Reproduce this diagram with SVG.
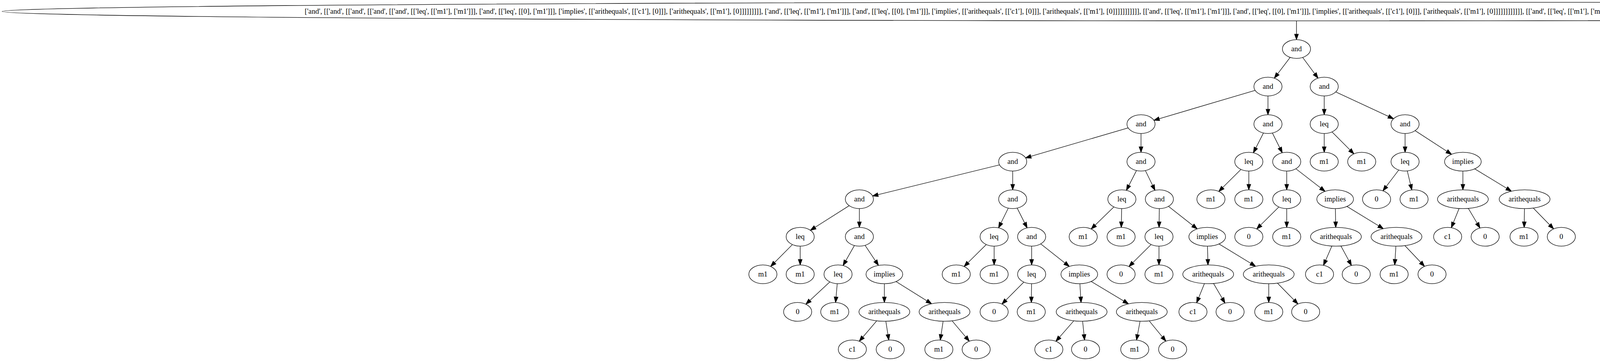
<svg xmlns="http://www.w3.org/2000/svg" width="6638" height="923" viewBox="0 0 6638 923">
<defs>
<style>
.node ellipse{fill:#fff;stroke:#000;stroke-width:1.33}
.node text{font-family:"Liberation Serif","Times New Roman",serif;font-size:18.67px;text-anchor:middle;fill:#000}
.edges line{stroke:#000;stroke-width:1.33;marker-end:url(#ah)}
</style>
<marker id="ah" markerUnits="userSpaceOnUse" markerWidth="14" markerHeight="10" refX="13.33" refY="4.67" orient="auto" viewBox="0 0 13.33 9.33" overflow="visible"><path d="M0,0 L13.33,4.67 L0,9.33 Z" fill="#000" stroke="#000" stroke-width="1.33"/></marker>
</defs>
<rect x="0" y="0" width="6638" height="923" fill="#fff"/>
<g id="edges" class="edges">
<line x1="3319" y1="53.33" x2="3319" y2="101.33"/>
<line x1="3319" y1="125.33" x2="3262.3" y2="199.9"/>
<line x1="3319" y1="125.33" x2="3374.1" y2="199.8"/>
<line x1="3246" y1="221.33" x2="2953.9" y2="307.6"/>
<line x1="3246" y1="221.33" x2="3246" y2="293.33"/>
<line x1="3390" y1="221.33" x2="3390" y2="293.33"/>
<line x1="3390" y1="221.33" x2="3567.4" y2="303.6"/>
<line x1="2921" y1="317.33" x2="2625.5" y2="403.7"/>
<line x1="2921" y1="317.33" x2="2921" y2="389.33"/>
<line x1="3246" y1="317.33" x2="3208.6" y2="390.6"/>
<line x1="3246" y1="317.33" x2="3282.6" y2="390.6"/>
<line x1="3390" y1="317.33" x2="3390" y2="389.33"/>
<line x1="3390" y1="317.33" x2="3466" y2="393.4"/>
<line x1="3597" y1="317.33" x2="3597" y2="389.33"/>
<line x1="3597" y1="317.33" x2="3715.9" y2="394.5"/>
<line x1="2592.5" y1="413.33" x2="2233.8" y2="501.1"/>
<line x1="2592.5" y1="413.33" x2="2592.5" y2="485.33"/>
<line x1="2921" y1="413.33" x2="2883.6" y2="486.6"/>
<line x1="2921" y1="413.33" x2="2956.8" y2="486.5"/>
<line x1="3197" y1="413.33" x2="3120.1" y2="489.4"/>
<line x1="3197" y1="413.33" x2="3197" y2="485.33"/>
<line x1="3294" y1="413.33" x2="3294" y2="485.33"/>
<line x1="3294" y1="413.33" x2="3392.1" y2="489.3"/>
<line x1="3597" y1="413.33" x2="3540.3" y2="487.9"/>
<line x1="3597" y1="413.33" x2="3614.3" y2="485.6"/>
<line x1="3745" y1="413.33" x2="3745" y2="485.33"/>
<line x1="3745" y1="413.33" x2="3869.2" y2="488.8"/>
<line x1="2200" y1="509.33" x2="2074.6" y2="588.8"/>
<line x1="2200" y1="509.33" x2="2200" y2="581.33"/>
<line x1="2592.5" y1="509.33" x2="2556.3" y2="582.5"/>
<line x1="2592.5" y1="509.33" x2="2629.5" y2="582.6"/>
<line x1="2872" y1="509.33" x2="2793.4" y2="585.5"/>
<line x1="2872" y1="509.33" x2="2870.5" y2="581.3"/>
<line x1="2968" y1="509.33" x2="2967.25" y2="581.33"/>
<line x1="2968" y1="509.33" x2="3064.8" y2="585.2"/>
<line x1="3294" y1="509.33" x2="3217.1" y2="585.4"/>
<line x1="3294" y1="509.33" x2="3294" y2="581.33"/>
<line x1="3418" y1="509.33" x2="3419.5" y2="581.33"/>
<line x1="3418" y1="509.33" x2="3541.4" y2="584.8"/>
<line x1="3745" y1="509.33" x2="3715.4" y2="582.1"/>
<line x1="3745" y1="509.33" x2="3788.8" y2="583"/>
<line x1="3903" y1="509.33" x2="3901.9" y2="581.33"/>
<line x1="3903" y1="509.33" x2="3977.3" y2="585.2"/>
<line x1="2048.5" y1="605.33" x2="1972.9" y2="681.3"/>
<line x1="2048.5" y1="605.33" x2="2048.5" y2="677.33"/>
<line x1="2200" y1="605.33" x2="2158.2" y2="678.9"/>
<line x1="2200" y1="605.33" x2="2248.9" y2="678.6"/>
<line x1="2545" y1="605.33" x2="2468.1" y2="681.4"/>
<line x1="2545" y1="605.33" x2="2545" y2="677.33"/>
<line x1="2641" y1="605.33" x2="2641" y2="677.33"/>
<line x1="2641" y1="605.33" x2="2737.4" y2="681.2"/>
<line x1="2967" y1="605.33" x2="2890.1" y2="681.4"/>
<line x1="2967" y1="605.33" x2="2967" y2="677.33"/>
<line x1="3090.5" y1="605.33" x2="3092.4" y2="677.33"/>
<line x1="3090.5" y1="605.33" x2="3214.3" y2="680.8"/>
<line x1="3420" y1="605.33" x2="3388.1" y2="678.3"/>
<line x1="3420" y1="605.33" x2="3459.8" y2="678.8"/>
<line x1="3575" y1="605.33" x2="3570.5" y2="677.4"/>
<line x1="3575" y1="605.33" x2="3646.8" y2="681"/>
<line x1="2145.4" y1="701.33" x2="2063" y2="777.8"/>
<line x1="2145.4" y1="701.33" x2="2139.1" y2="773.4"/>
<line x1="2264" y1="701.33" x2="2264" y2="773.33"/>
<line x1="2264" y1="701.33" x2="2384.9" y2="776.7"/>
<line x1="2641" y1="701.33" x2="2565" y2="777.4"/>
<line x1="2641" y1="701.33" x2="2640.25" y2="773.33"/>
<line x1="2763" y1="701.33" x2="2767.5" y2="773.3"/>
<line x1="2763" y1="701.33" x2="2888.9" y2="776.9"/>
<line x1="3093" y1="701.33" x2="3063.4" y2="774.1"/>
<line x1="3093" y1="701.33" x2="3136" y2="774.9"/>
<line x1="3248" y1="701.33" x2="3248" y2="773.33"/>
<line x1="3248" y1="701.33" x2="3322.7" y2="777.2"/>
<line x1="2264" y1="797.33" x2="2199.8" y2="872.5"/>
<line x1="2264" y1="797.33" x2="2275.3" y2="869.4"/>
<line x1="2418" y1="797.33" x2="2407.1" y2="869.4"/>
<line x1="2418" y1="797.33" x2="2481.4" y2="872.4"/>
<line x1="2769" y1="797.33" x2="2703.1" y2="872.6"/>
<line x1="2769" y1="797.33" x2="2776.5" y2="869.4"/>
<line x1="2923" y1="797.33" x2="2909.5" y2="869.5"/>
<line x1="2923" y1="797.33" x2="2984.7" y2="872.3"/>
</g>
<g id="n0" class="node"><ellipse cx="3319" cy="29.33" rx="3313.7" ry="24"/><text x="3319" y="35.3" textLength="5078">['and', [['and', [['and', [['and', [['and', [['leq', [['m1'], ['m1']]], ['and', [['leq', [[0], ['m1']]], ['implies', [['arithequals', [['c1'], [0]]], ['arithequals', [['m1'], [0]]]]]]]]], ['and', [['leq', [['m1'], ['m1']]], ['and', [['leq', [[0], ['m1']]], ['implies', [['arithequals', [['c1'], [0]]], ['arithequals', [['m1'], [0]]]]]]]]]]], [['and', [['leq', [['m1'], ['m1']]], ['and', [['leq', [[0], ['m1']]], ['implies', [['arithequals', [['c1'], [0]]], ['arithequals', [['m1'], [0]]]]]]]]]]]], [['and', [['leq', [['m1'], ['m1']]], ['and', [['leq', [[0], ['m1']]], ['implies', [['arithequals', [['c1'], [0]]], ['arithequals', [['m1'], [0]]]]]]]]]]]], [['and', [['leq', [['m1'], ['m1']]], ['and', [['leq', [[0], ['m1']]], ['implies', [['arithequals', [['c1'], [0]]], ['arithequals', [['m1'], [0]]]]]]]]]]]]</text></g>
<g id="n1" class="node"><ellipse cx="3319" cy="125.33" rx="36" ry="24"/><text x="3319" y="131.3">and</text></g>
<g id="n2" class="node"><ellipse cx="3246" cy="221.33" rx="36" ry="24"/><text x="3246" y="227.3">and</text></g>
<g id="n3" class="node"><ellipse cx="3390" cy="221.33" rx="36" ry="24"/><text x="3390" y="227.3">and</text></g>
<g id="n4" class="node"><ellipse cx="2921" cy="317.33" rx="36" ry="24"/><text x="2921" y="323.3">and</text></g>
<g id="n5" class="node"><ellipse cx="3246" cy="317.33" rx="36" ry="24"/><text x="3246" y="323.3">and</text></g>
<g id="n6" class="node"><ellipse cx="3390" cy="317.33" rx="36" ry="24"/><text x="3390" y="323.3">leq</text></g>
<g id="n7" class="node"><ellipse cx="3597" cy="317.33" rx="36" ry="24"/><text x="3597" y="323.3">and</text></g>
<g id="n8" class="node"><ellipse cx="2592.5" cy="413.33" rx="36" ry="24"/><text x="2592.5" y="419.3">and</text></g>
<g id="n9" class="node"><ellipse cx="2921" cy="413.33" rx="36" ry="24"/><text x="2921" y="419.3">and</text></g>
<g id="n10" class="node"><ellipse cx="3197" cy="413.33" rx="36" ry="24"/><text x="3197" y="419.3">leq</text></g>
<g id="n11" class="node"><ellipse cx="3294" cy="413.33" rx="36" ry="24"/><text x="3294" y="419.3">and</text></g>
<g id="n12" class="node"><ellipse cx="3390" cy="413.33" rx="36" ry="24"/><text x="3390" y="419.3">m1</text></g>
<g id="n13" class="node"><ellipse cx="3486" cy="413.33" rx="36" ry="24"/><text x="3486" y="419.3">m1</text></g>
<g id="n14" class="node"><ellipse cx="3597" cy="413.33" rx="36" ry="24"/><text x="3597" y="419.3">leq</text></g>
<g id="n15" class="node"><ellipse cx="3745" cy="413.33" rx="47" ry="24"/><text x="3745" y="419.3">implies</text></g>
<g id="n16" class="node"><ellipse cx="2200" cy="509.33" rx="36" ry="24"/><text x="2200" y="515.3">and</text></g>
<g id="n17" class="node"><ellipse cx="2592.5" cy="509.33" rx="36" ry="24"/><text x="2592.5" y="515.3">and</text></g>
<g id="n18" class="node"><ellipse cx="2872" cy="509.33" rx="36" ry="24"/><text x="2872" y="515.3">leq</text></g>
<g id="n19" class="node"><ellipse cx="2968" cy="509.33" rx="36" ry="24"/><text x="2968" y="515.3">and</text></g>
<g id="n20" class="node"><ellipse cx="3100" cy="509.33" rx="36" ry="24"/><text x="3100" y="515.3">m1</text></g>
<g id="n21" class="node"><ellipse cx="3197" cy="509.33" rx="36" ry="24"/><text x="3197" y="515.3">m1</text></g>
<g id="n22" class="node"><ellipse cx="3294" cy="509.33" rx="36" ry="24"/><text x="3294" y="515.3">leq</text></g>
<g id="n23" class="node"><ellipse cx="3418" cy="509.33" rx="47" ry="24"/><text x="3418" y="515.3">implies</text></g>
<g id="n24" class="node"><ellipse cx="3524" cy="509.33" rx="36" ry="24"/><text x="3524" y="515.3">0</text></g>
<g id="n25" class="node"><ellipse cx="3620" cy="509.33" rx="36" ry="24"/><text x="3620" y="515.3">m1</text></g>
<g id="n26" class="node"><ellipse cx="3745" cy="509.33" rx="65" ry="24"/><text x="3745" y="515.3">arithequals</text></g>
<g id="n27" class="node"><ellipse cx="3903" cy="509.33" rx="65" ry="24"/><text x="3903" y="515.3">arithequals</text></g>
<g id="n28" class="node"><ellipse cx="2048.5" cy="605.33" rx="36" ry="24"/><text x="2048.5" y="611.3">leq</text></g>
<g id="n29" class="node"><ellipse cx="2200" cy="605.33" rx="36" ry="24"/><text x="2200" y="611.3">and</text></g>
<g id="n30" class="node"><ellipse cx="2545" cy="605.33" rx="36" ry="24"/><text x="2545" y="611.3">leq</text></g>
<g id="n31" class="node"><ellipse cx="2641" cy="605.33" rx="36" ry="24"/><text x="2641" y="611.3">and</text></g>
<g id="n32" class="node"><ellipse cx="2773" cy="605.33" rx="36" ry="24"/><text x="2773" y="611.3">m1</text></g>
<g id="n33" class="node"><ellipse cx="2870" cy="605.33" rx="36" ry="24"/><text x="2870" y="611.3">m1</text></g>
<g id="n34" class="node"><ellipse cx="2967" cy="605.33" rx="36" ry="24"/><text x="2967" y="611.3">leq</text></g>
<g id="n35" class="node"><ellipse cx="3090.5" cy="605.33" rx="47" ry="24"/><text x="3090.5" y="611.3">implies</text></g>
<g id="n36" class="node"><ellipse cx="3197" cy="605.33" rx="36" ry="24"/><text x="3197" y="611.3">0</text></g>
<g id="n37" class="node"><ellipse cx="3294" cy="605.33" rx="36" ry="24"/><text x="3294" y="611.3">m1</text></g>
<g id="n38" class="node"><ellipse cx="3420" cy="605.33" rx="65" ry="24"/><text x="3420" y="611.3">arithequals</text></g>
<g id="n39" class="node"><ellipse cx="3575" cy="605.33" rx="65" ry="24"/><text x="3575" y="611.3">arithequals</text></g>
<g id="n40" class="node"><ellipse cx="3706" cy="605.33" rx="36" ry="24"/><text x="3706" y="611.3">c1</text></g>
<g id="n41" class="node"><ellipse cx="3802" cy="605.33" rx="36" ry="24"/><text x="3802" y="611.3">0</text></g>
<g id="n42" class="node"><ellipse cx="3901.5" cy="605.33" rx="36" ry="24"/><text x="3901.5" y="611.3">m1</text></g>
<g id="n43" class="node"><ellipse cx="3997" cy="605.33" rx="36" ry="24"/><text x="3997" y="611.3">0</text></g>
<g id="n44" class="node"><ellipse cx="1953" cy="701.33" rx="36" ry="24"/><text x="1953" y="707.3">m1</text></g>
<g id="n45" class="node"><ellipse cx="2048.5" cy="701.33" rx="36" ry="24"/><text x="2048.5" y="707.3">m1</text></g>
<g id="n46" class="node"><ellipse cx="2145.4" cy="701.33" rx="36" ry="24"/><text x="2145.4" y="707.3">leq</text></g>
<g id="n47" class="node"><ellipse cx="2264" cy="701.33" rx="47" ry="24"/><text x="2264" y="707.3">implies</text></g>
<g id="n48" class="node"><ellipse cx="2448" cy="701.33" rx="36" ry="24"/><text x="2448" y="707.3">m1</text></g>
<g id="n49" class="node"><ellipse cx="2545" cy="701.33" rx="36" ry="24"/><text x="2545" y="707.3">m1</text></g>
<g id="n50" class="node"><ellipse cx="2641" cy="701.33" rx="36" ry="24"/><text x="2641" y="707.3">leq</text></g>
<g id="n51" class="node"><ellipse cx="2763" cy="701.33" rx="47" ry="24"/><text x="2763" y="707.3">implies</text></g>
<g id="n52" class="node"><ellipse cx="2870" cy="701.33" rx="36" ry="24"/><text x="2870" y="707.3">0</text></g>
<g id="n53" class="node"><ellipse cx="2967" cy="701.33" rx="36" ry="24"/><text x="2967" y="707.3">m1</text></g>
<g id="n54" class="node"><ellipse cx="3093" cy="701.33" rx="65" ry="24"/><text x="3093" y="707.3">arithequals</text></g>
<g id="n55" class="node"><ellipse cx="3248" cy="701.33" rx="65" ry="24"/><text x="3248" y="707.3">arithequals</text></g>
<g id="n56" class="node"><ellipse cx="3378" cy="701.33" rx="36" ry="24"/><text x="3378" y="707.3">c1</text></g>
<g id="n57" class="node"><ellipse cx="3472" cy="701.33" rx="36" ry="24"/><text x="3472" y="707.3">0</text></g>
<g id="n58" class="node"><ellipse cx="3569" cy="701.33" rx="36" ry="24"/><text x="3569" y="707.3">m1</text></g>
<g id="n59" class="node"><ellipse cx="3666" cy="701.33" rx="36" ry="24"/><text x="3666" y="707.3">0</text></g>
<g id="n60" class="node"><ellipse cx="2042" cy="797.33" rx="36" ry="24"/><text x="2042" y="803.3">0</text></g>
<g id="n61" class="node"><ellipse cx="2137" cy="797.33" rx="36" ry="24"/><text x="2137" y="803.3">m1</text></g>
<g id="n62" class="node"><ellipse cx="2264" cy="797.33" rx="65" ry="24"/><text x="2264" y="803.3">arithequals</text></g>
<g id="n63" class="node"><ellipse cx="2418" cy="797.33" rx="65" ry="24"/><text x="2418" y="803.3">arithequals</text></g>
<g id="n64" class="node"><ellipse cx="2545" cy="797.33" rx="36" ry="24"/><text x="2545" y="803.3">0</text></g>
<g id="n65" class="node"><ellipse cx="2640" cy="797.33" rx="36" ry="24"/><text x="2640" y="803.3">m1</text></g>
<g id="n66" class="node"><ellipse cx="2769" cy="797.33" rx="65" ry="24"/><text x="2769" y="803.3">arithequals</text></g>
<g id="n67" class="node"><ellipse cx="2923" cy="797.33" rx="65" ry="24"/><text x="2923" y="803.3">arithequals</text></g>
<g id="n68" class="node"><ellipse cx="3054" cy="797.33" rx="36" ry="24"/><text x="3054" y="803.3">c1</text></g>
<g id="n69" class="node"><ellipse cx="3149" cy="797.33" rx="36" ry="24"/><text x="3149" y="803.3">0</text></g>
<g id="n70" class="node"><ellipse cx="3248" cy="797.33" rx="36" ry="24"/><text x="3248" y="803.3">m1</text></g>
<g id="n71" class="node"><ellipse cx="3342.5" cy="797.33" rx="36" ry="24"/><text x="3342.5" y="803.3">0</text></g>
<g id="n72" class="node"><ellipse cx="2182" cy="893.33" rx="36" ry="24"/><text x="2182" y="899.3">c1</text></g>
<g id="n73" class="node"><ellipse cx="2279" cy="893.33" rx="36" ry="24"/><text x="2279" y="899.3">0</text></g>
<g id="n74" class="node"><ellipse cx="2403.5" cy="893.33" rx="36" ry="24"/><text x="2403.5" y="899.3">m1</text></g>
<g id="n75" class="node"><ellipse cx="2499" cy="893.33" rx="36" ry="24"/><text x="2499" y="899.3">0</text></g>
<g id="n76" class="node"><ellipse cx="2685" cy="893.33" rx="36" ry="24"/><text x="2685" y="899.3">c1</text></g>
<g id="n77" class="node"><ellipse cx="2779" cy="893.33" rx="36" ry="24"/><text x="2779" y="899.3">0</text></g>
<g id="n78" class="node"><ellipse cx="2905" cy="893.33" rx="36" ry="24"/><text x="2905" y="899.3">m1</text></g>
<g id="n79" class="node"><ellipse cx="3002" cy="893.33" rx="36" ry="24"/><text x="3002" y="899.3">0</text></g>
</svg>
